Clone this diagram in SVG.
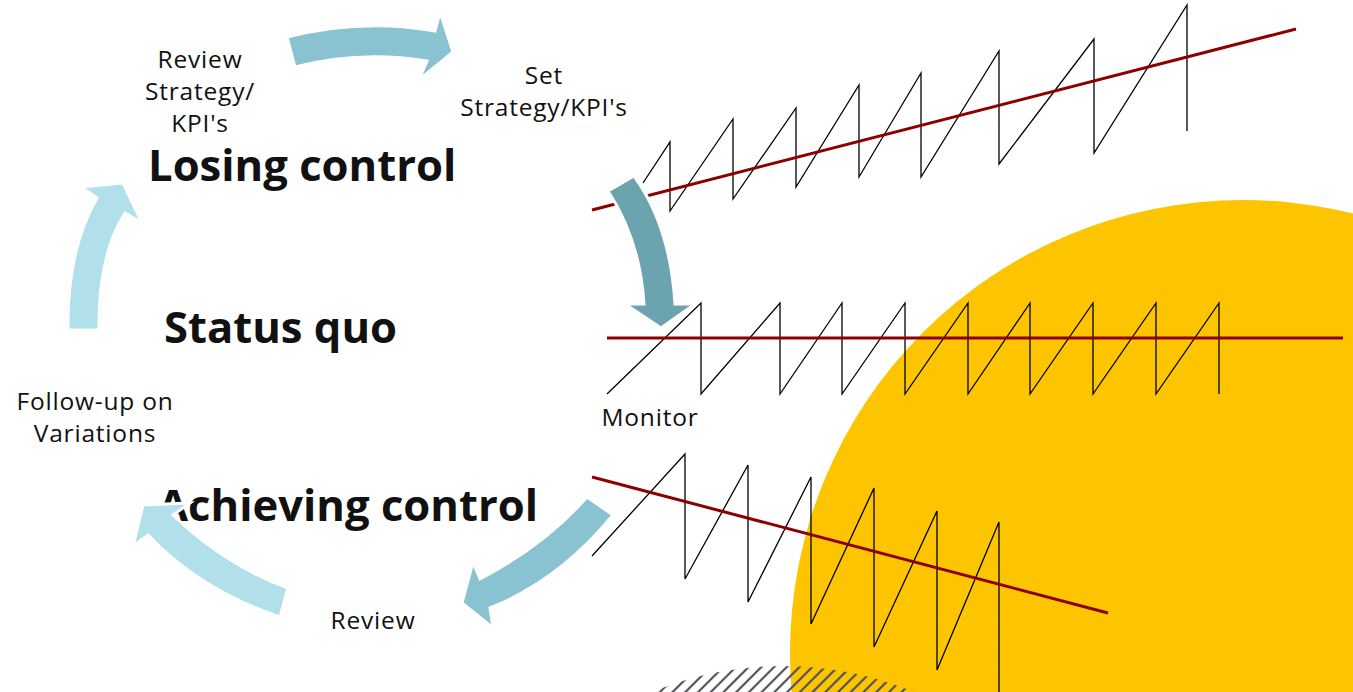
<svg xmlns="http://www.w3.org/2000/svg" width="1353" height="692" viewBox="0 0 1353 692">
  <defs>
    <style>
      .lbl { font-family: "Open Sans", "Noto Sans", sans-serif; font-size: 24.5px; letter-spacing: 0.8px; fill: #111; text-anchor: middle; }
      .big { font-family: "Open Sans", "Noto Sans", sans-serif; font-size: 43.6px; font-weight: bold; fill: #111; }
      .saw { fill: none; stroke: #000; stroke-width: 1.3; stroke-linejoin: miter; }
      .trend { fill: none; stroke: #8B0000; stroke-width: 3; }
      .arrow { stroke: #fff; stroke-width: 3; stroke-linejoin: miter; }
    </style>
    <pattern id="hatch" patternUnits="userSpaceOnUse" width="9" height="9" patternTransform="rotate(45)">
      <line x1="2" y1="0" x2="2" y2="9" stroke="#4d5359" stroke-width="2.2"/>
    </pattern>
  </defs>

  <rect width="1353" height="692" fill="#fff"/>

  <!-- background decoration -->
  <g id="backdrop">
    <circle cx="1243" cy="653" r="453" fill="#FDC500"/>
    <circle cx="783" cy="1009" r="343" fill="url(#hatch)"/>
  </g>

  <!-- trend charts -->
  <g id="chart-rising">
    <polyline class="saw" points="643,183 670,142 670,211 733,119 733,199 796,108 796,187 859,85 859,177 921,73 921,177 999,51 999,164 1094,39 1094,153 1187,5 1187,131"/>
    <line class="trend" x1="592" y1="210" x2="1296" y2="29"/>
  </g>
  <g id="chart-flat">
    <polyline class="saw" points="607,394 701,303 701,394 780,303 780,394 842,303 842,394 905,303 905,394 968,303 968,394 1030,303 1030,394 1093,303 1093,394 1156,303 1156,394 1219,303 1219,394"/>
    <line class="trend" x1="607" y1="338" x2="1343" y2="338" stroke-width="4"/>
  </g>
  <g id="chart-falling">
    <polyline class="saw" points="592,556 685,454 685,579 748,465 748,602 811,477 811,624 874,488 874,647 937,511 937,670 999,522 999,700"/>
    <line class="trend" x1="592" y1="477" x2="1108" y2="613"/>
  </g>

  <!-- state titles -->
  <g id="state-losing">
    <text class="big" x="148" y="181">Losing control</text>
  </g>
  <g id="state-status">
    <text class="big" x="164" y="343">Status quo</text>
  </g>
  <g id="state-achieving">
    <text class="big" x="158" y="521">Achieving control</text>
  </g>

  <!-- cycle steps -->
  <g id="step-review-strategy">
    <text class="lbl" x="200" y="68">Review</text>
    <text class="lbl" x="200" y="100">Strategy/</text>
    <text class="lbl" x="200" y="132">KPI's</text>
  </g>
  <g id="step-set-strategy">
    <text class="lbl" x="544" y="84">Set</text>
    <text class="lbl" x="544" y="116">Strategy/KPI's</text>
  </g>
  <g id="step-monitor">
    <text class="lbl" x="650" y="426">Monitor</text>
  </g>
  <g id="step-review">
    <text class="lbl" x="373" y="629">Review</text>
  </g>
  <g id="step-follow-up">
    <text class="lbl" x="95" y="410">Follow-up on</text>
    <text class="lbl" x="95" y="442">Variations</text>
  </g>

  <!-- cycle arrows -->
  <g id="connectors">
    <path class="arrow" fill="#89C3D1" d="M287,37 Q362,18 435,31 L440,12 L453,52 L419,80 L427,61 Q360,50 295,67 Z"/>
    <path class="arrow" fill="#6BA3AF" d="M608,191 L634,176 Q670,225 675,304 L695,304 L661,328 L625,304 L644,304 Q640,240 608,191 Z"/>
    <path class="arrow" fill="#89C3D1" d="M587,497 L613,515 Q560,580 490,608 L493,628 L462,603 L473,562 L480,579 Q545,545 587,497 Z"/>
    <path class="arrow" fill="#B1DFEA" d="M288,588 L280,617 Q200,590 148,535 L133,546 L143,505 L190,503 L173,515 Q225,565 288,588 Z"/>
    <path class="arrow" fill="#B1DFEA" d="M68,330 L99,330 Q98,255 125,213 L142,223 L123,183 L81,187 L97,198 Q67,250 68,330 Z"/>
  </g>
</svg>
